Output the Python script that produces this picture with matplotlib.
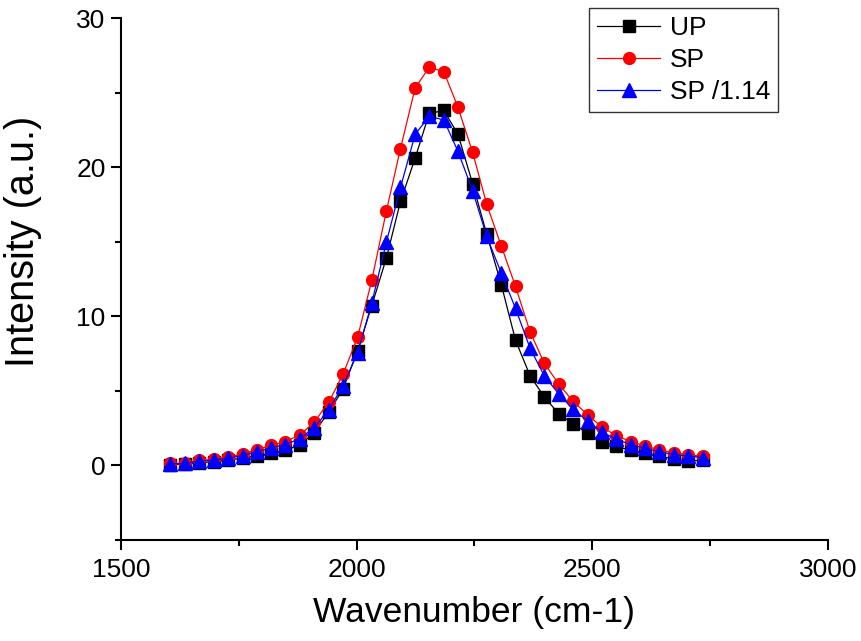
import matplotlib
matplotlib.use("Agg")
import matplotlib.pyplot as plt
from matplotlib.ticker import MultipleLocator

plt.rcParams['font.family'] = ['Liberation Sans', 'DejaVu Sans']

# Wavenumber positions (cm-1)
wavenumber = [1605, 1636, 1666, 1697, 1727, 1758, 1788, 1819, 1849, 1880,
              1910, 1941, 1971, 2002, 2032, 2063, 2093, 2124, 2154, 2185,
              2215, 2246, 2276, 2307, 2337, 2368, 2398, 2429, 2459, 2490,
              2520, 2551, 2581, 2612, 2642, 2673, 2703, 2734]

# UP intensity
up = [0.05, 0.1, 0.18, 0.25, 0.35, 0.5, 0.65, 0.8, 1.0, 1.4,
      2.2, 3.6, 5.1, 7.7, 10.7, 13.9, 17.7, 20.6, 23.6, 23.8,
      22.2, 18.9, 15.5, 12.1, 8.4, 6.0, 4.6, 3.45, 2.8, 2.15,
      1.6, 1.3, 1.0, 0.8, 0.6, 0.45, 0.3, 0.35]

# SP intensity
sp = [0.13, 0.15, 0.33, 0.4, 0.56, 0.75, 1.05, 1.35, 1.6, 2.05,
      2.9, 4.25, 6.1, 8.6, 12.4, 17.05, 21.25, 25.3, 26.7, 26.4,
      24.0, 21.0, 17.5, 14.7, 12.0, 8.95, 6.85, 5.45, 4.3, 3.4,
      2.57, 2.0, 1.6, 1.3, 1.05, 0.83, 0.72, 0.6]

# SP /1.14 intensity
sp_scaled = [0.11, 0.13, 0.29, 0.35, 0.49, 0.66, 0.92, 1.18, 1.4, 1.8,
             2.54, 3.73, 5.35, 7.54, 10.88, 14.96, 18.64, 22.19, 23.42, 23.16,
             21.05, 18.42, 15.35, 12.89, 10.53, 7.85, 6.01, 4.78, 3.77, 2.98,
             2.25, 1.75, 1.4, 1.14, 0.92, 0.73, 0.63, 0.53]

fig = plt.figure(figsize=(8.61, 6.41), dpi=100)
ax = fig.add_axes([0.1405, 0.1576, 0.8212, 0.8143])

ax.plot(wavenumber, up, color='black', marker='s', markersize=8, lw=0.9, label='UP')
ax.plot(wavenumber, sp, color='red', marker='o', markersize=8.5, lw=0.9, label='SP')
ax.plot(wavenumber, sp_scaled, color='blue', marker='^', markersize=9.5, lw=0.9, label='SP /1.14')

ax.set_xlim(1500, 3000)
ax.set_ylim(-5, 30)
ax.xaxis.set_major_locator(MultipleLocator(500))
ax.xaxis.set_minor_locator(MultipleLocator(250))
ax.yaxis.set_major_locator(MultipleLocator(10))
ax.yaxis.set_minor_locator(MultipleLocator(5))

ax.spines['top'].set_visible(False)
ax.spines['right'].set_visible(False)
for s in ['left', 'bottom']:
    ax.spines[s].set_linewidth(1.5)
ax.tick_params(which='major', direction='out', length=7.5, width=1.5, labelsize=19)
ax.tick_params(which='minor', direction='out', length=4.5, width=1.5)
ax.tick_params(axis='x', which='major', pad=5.5)
ax.tick_params(axis='y', which='major', pad=3.5)

ax.set_xlabel('Wavenumber (cm-1)', fontsize=25.5)
ax.set_ylabel('Intensity (a.u.)', fontsize=28.5)
ax.xaxis.set_label_coords(0.5, -0.107)
ax.yaxis.set_label_coords(-0.112, 0.573)

leg = ax.legend(loc='upper right', bbox_to_anchor=(778 / 861, 1 - 8 / 641),
                bbox_transform=fig.transFigure, fontsize=19, frameon=True,
                fancybox=False, edgecolor='black', handlelength=2.4,
                borderaxespad=0, borderpad=0.3, labelspacing=0.3, handletextpad=0.35)
leg.get_frame().set_linewidth(1.0)

plt.savefig('out.png', dpi=100)
